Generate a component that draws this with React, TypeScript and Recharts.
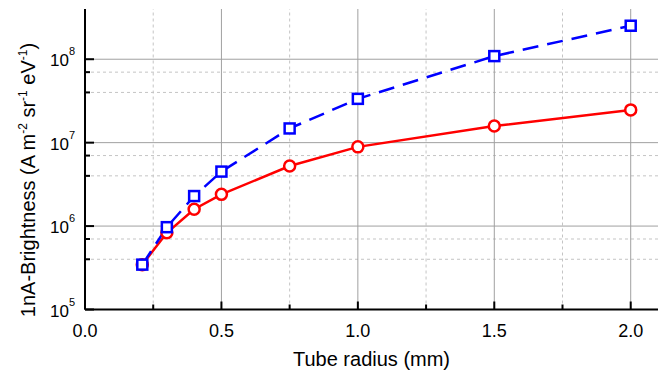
import { LineChart, Line, XAxis, YAxis, ReferenceLine, Label } from "recharts";

// tube radius (mm)
const radius = [0.21, 0.3, 0.4, 0.5, 0.75, 1.0, 1.5, 2.0];
// red circles, solid line
const brightRed = [3.45e5, 8.3e5, 1.59e6, 2.4e6, 5.25e6, 8.9e6, 1.58e7, 2.47e7];
// blue squares, dashed line
const brightBlue = [3.45e5, 9.7e5, 2.29e6, 4.5e6, 1.48e7, 3.35e7, 1.09e8, 2.52e8];

const xMajor = [0, 0.5, 1.0, 1.5, 2.0];
const xMinor = [0.25, 0.75, 1.25, 1.75];
const yMajor = [1e5, 1e6, 1e7, 1e8];
const yMinor = [4e5, 7e5, 4e6, 7e6, 4e7, 7e7];

const X_DOMAIN = [0, 2.1];
const Y_DOMAIN = [1e5, 4e8];
const FONT = "'Liberation Sans', Arial, sans-serif";

const data = radius.map((r, i) => ({ r, red: brightRed[i], blue: brightBlue[i] }));
const xTicks = [...xMajor, ...xMinor].sort((a, b) => a - b);
const yTicks = [...yMajor, ...yMinor].sort((a, b) => a - b);

function LeftTick({ x, y, payload }: any) {
  const v = payload.value;
  const major = yMajor.includes(v);
  const ax = x + 6;
  return (
    <g>
      <line x1={ax} x2={ax + (major ? 9 : 5)} y1={y} y2={y} stroke="#000" strokeWidth={2} />
      {major && (
        <text x={ax - 10} y={y + 7} textAnchor="end" fontFamily={FONT} fontSize={17} fill="#000">
          10<tspan dy={-11} fontSize={11}>{Math.round(Math.log10(v))}</tspan>
        </text>
      )}
    </g>
  );
}

function RightTick({ x, y, payload }: any) {
  const major = yMajor.includes(payload.value);
  return <line x1={x} x2={x - (major ? 9 : 5)} y1={y} y2={y} stroke="#000" strokeWidth={2} />;
}

function BottomTick({ x, y, payload }: any) {
  const v = payload.value;
  const major = xMajor.includes(v);
  return (
    <g>
      <line x1={x} x2={x} y1={y} y2={y - (major ? 8 : 5)} stroke="#000" strokeWidth={2} />
      {major && (
        <text x={x} y={y + 27} textAnchor="middle" fontFamily={FONT} fontSize={18} fill="#000">
          {v.toFixed(1)}
        </text>
      )}
    </g>
  );
}

function TopTick({ x, y, payload }: any) {
  const major = xMajor.includes(payload.value);
  return <line x1={x} x2={x} y1={y} y2={y + (major ? 8 : 5)} stroke="#000" strokeWidth={2} />;
}

function Square({ cx, cy }: any) {
  if (cx == null || cy == null) return null;
  return <rect x={cx - 5} y={cy - 5} width={10} height={10} fill="#fff" stroke="#0000ff" strokeWidth={2.5} />;
}

function YTitle() {
  return (
    <text transform="translate(35,180) rotate(-90)" textAnchor="middle" fontFamily={FONT} fontSize={20} fill="#000">
      1nA-Brightness (A m<tspan dy={-8} fontSize={12}>-2</tspan>
      <tspan dy={8}> sr</tspan><tspan dy={-8} fontSize={12}>-1</tspan>
      <tspan dy={8}> eV</tspan><tspan dy={-8} fontSize={12}>-1</tspan>
      <tspan dy={8}>)</tspan>
    </text>
  );
}

const axisLine = { stroke: "#000", strokeWidth: 2 };

export default function App() {
  return (
    <div style={{ width: 667, height: 375, background: "#fff" }}>
      <style>{"body{margin:0}"}</style>
      <LineChart width={667} height={375} data={data} margin={{ top: 9, right: 9, bottom: 0, left: 0 }}>
        <XAxis
          dataKey="r" type="number" domain={X_DOMAIN} allowDataOverflow ticks={xTicks} interval={0}
          height={65.5} tickSize={0} tickMargin={0} tickLine={false} axisLine={axisLine} tick={<BottomTick />}
        >
          <Label value="Tube radius (mm)" position="insideBottom" offset={9} fontFamily={FONT} fontSize={20} fill="#000" />
        </XAxis>
        <XAxis
          xAxisId="top" orientation="top" type="number" domain={X_DOMAIN} allowDataOverflow ticks={xTicks} interval={0}
          height={0} tickSize={0} tickMargin={0} tickLine={false} axisLine={axisLine} tick={<TopTick />}
        />
        <YAxis
          type="number" scale="log" domain={Y_DOMAIN} allowDataOverflow ticks={yTicks} interval={0}
          width={85} tickSize={0} tickMargin={6} tickLine={false} axisLine={axisLine} tick={<LeftTick />}
        >
          <Label content={() => <YTitle />} />
        </YAxis>
        <YAxis
          yAxisId="right" orientation="right" type="number" scale="log" domain={Y_DOMAIN} allowDataOverflow
          ticks={yTicks} interval={0} width={0} tickSize={0} tickMargin={0} tickLine={false} axisLine={axisLine}
          tick={<RightTick />}
        />

        {xMinor.map((v) => (
          <ReferenceLine key={`xm${v}`} x={v} stroke="#c4c4c4" strokeDasharray="3 3" />
        ))}
        {yMinor.map((v) => (
          <ReferenceLine key={`ym${v}`} y={v} stroke="#c4c4c4" strokeDasharray="3 3" />
        ))}
        {xMajor.slice(1).map((v) => (
          <ReferenceLine key={`xM${v}`} x={v} stroke="#a0a0a0" />
        ))}
        {yMajor.slice(1).map((v) => (
          <ReferenceLine key={`yM${v}`} y={v} stroke="#a0a0a0" />
        ))}

        <Line
          dataKey="red" stroke="#ff0000" strokeWidth={2.5} isAnimationActive={false}
          dot={{ r: 5.5, fill: "#fff", stroke: "#ff0000", strokeWidth: 2.5 }}
        />
        <Line
          dataKey="blue" stroke="#0000ff" strokeWidth={2.5} strokeDasharray="16 9" isAnimationActive={false}
          dot={<Square />}
        />
      </LineChart>
    </div>
  );
}
